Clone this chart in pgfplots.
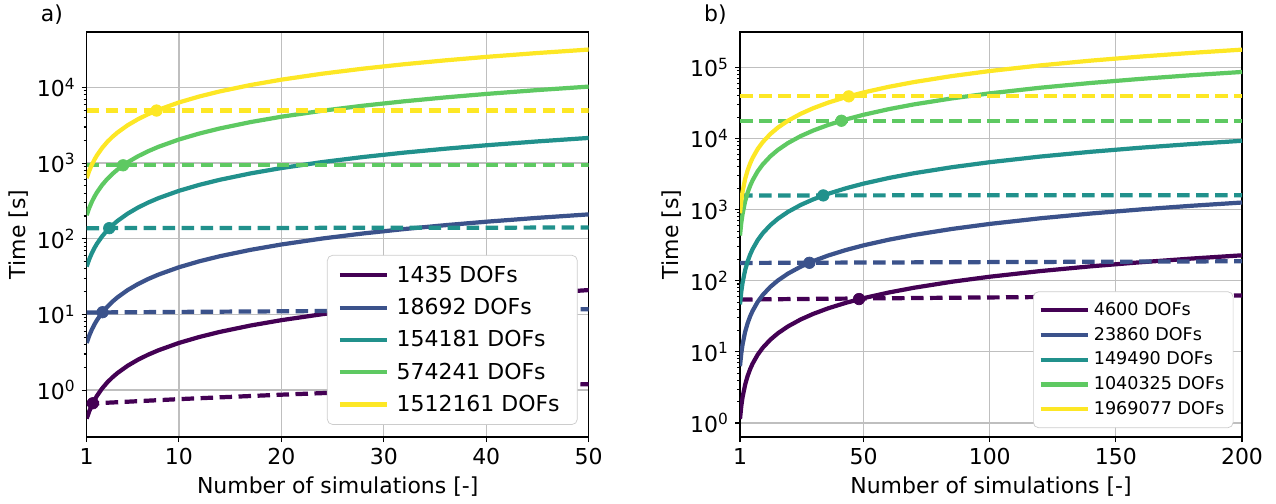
\documentclass[border=0pt]{standalone}
\usepackage{fontspec}
\setmainfont{DejaVu Sans}
\usepackage{pgfplots}
\usepackage{pgfplotstable}
\pgfplotsset{compat=1.18}

\definecolor{v0}{HTML}{440154}
\definecolor{v1}{HTML}{3B528B}
\definecolor{v2}{HTML}{21918C}
\definecolor{v3}{HTML}{5EC962}
\definecolor{v4}{HTML}{FDE725}

% panel a: time of the reduced approach vs number of simulations
\pgfplotstableread{
N    p      b      t      g      y
1    0.42   4.2    43     205    633
1.25 0.525  5.25   53.75  256.25 791.25
1.5  0.63   6.3    64.5   307.5  949.5
1.75 0.735  7.35   75.25  358.75 1107.75
2    0.84   8.4    86     410    1266
2.5  1.05   10.5   107.5  512.5  1582.5
3    1.26   12.6   129    615    1899
3.5  1.47   14.7   150.5  717.5  2215.5
4    1.68   16.8   172    820    2532
5    2.1    21     215    1025   3165
6    2.52   25.2   258    1230   3798
7    2.94   29.4   301    1435   4431
8    3.36   33.6   344    1640   5064
10   4.2    42     430    2050   6330
12   5.04   50.4   516    2460   7596
14   5.88   58.8   602    2870   8862
17   7.14   71.4   731    3485   10761
20   8.4    84     860    4100   12660
24   10.08  100.8  1032   4920   15192
28   11.76  117.6  1204   5740   17724
32   13.44  134.4  1376   6560   20256
36   15.12  151.2  1548   7380   22788
40   16.8   168    1720   8200   25320
45   18.9   189    1935   9225   28485
50   21     210    2150   10250  31650
}\dataA
\pgfplotstableread{
N   p     b      t     g     y
1   0.66  10.6   138   935   4950
10  0.76  10.8   139   935   4950
20  0.87  11.0   139   935   4950
30  0.98  11.25  140   935   4950
40  1.09  11.45  140   935   4950
50  1.20  11.7   141   935   4950
}\dashA

% panel b
\pgfplotstableread{
N    p      b      t       g      y
1    1.14   6.3    46.5    432    890
1.5  1.71   9.45   69.75   648    1335
2    2.28   12.6   93      864    1780
3    3.42   18.9   139.5   1296   2670
4    4.56   25.2   186     1728   3560
5    5.7    31.5   232.5   2160   4450
6    6.84   37.8   279     2592   5340
8    9.12   50.4   372     3456   7120
10   11.4   63     465     4320   8900
13   14.82  81.9   604.5   5616   11570
16   18.24  100.8  744     6912   14240
20   22.8   126    930     8640   17800
25   28.5   157.5  1162.5  10800  22250
30   34.2   189    1395    12960  26700
36   41.04  226.8  1674    15552  32040
43   49.02  270.9  1999.5  18576  38270
50   57     315    2325    21600  44500
60   68.4   378    2790    25920  53400
70   79.8   441    3255    30240  62300
85   96.9   535.5  3952.5  36720  75650
100  114    630    4650    43200  89000
120  136.8  756    5580    51840  106800
140  159.6  882    6510    60480  124600
160  182.4  1008   7440    69120  142400
180  205.2  1134   8370    77760  160200
200  228    1260   9300    86400  178000
}\dataB
\pgfplotstableread{
N    p     b      t     g      y
1    54.5  178    1585  17800  39200
50   56.4  180.5  1588  17800  39200
100  58.3  183    1592  17800  39200
150  60.1  185.5  1596  17800  39200
200  62    188    1600  17800  39200
}\dashB

\pgfplotsset{
  legend image code/.code={\draw[#1] (0cm,0cm) -- (0.95cm,0cm);},
}
\pgfplotsset{
  panelaxis/.style={
    scale only axis,
    width=10.04cm, height=8.1cm,
    font=\fontsize{12.5}{15}\selectfont,
    tick label style={font=\fontsize{12.5}{15}\selectfont},
    tick pos=left,
    tick align=outside,
    major tick length=0.1cm,
    minor tick length=0.06cm,
    every tick/.style={black, line width=0.6pt},
    axis line style={line width=0.8pt},
    grid=major,
    major grid style={line width=0.7pt, black!25},
    xlabel={Number of simulations [-]},
    ylabel={Time [s]},
    ylabel style={xshift=0pt, yshift=-2pt},
    legend cell align=left,
  },
}
\tikzset{
  solidcurve/.style={line width=2.4pt},
  dashcurve/.style={line width=2.4pt, dash pattern=on 0.25cm off 0.13cm},
  crossdot/.style={only marks, mark=*, mark size=0.115cm},
}

\begin{document}
\begin{tikzpicture}
\useasboundingbox (0,0) rectangle (25.52cm,10.06cm);

\begin{axis}[panelaxis, ymode=log, name=A,
  at={(1.734cm,1.32cm)}, anchor=south west,
  xmin=1, xmax=50, ymin=0.24, ymax=54000,
  xtick={1,10,20,30,40,50},
  xticklabels={1,10,20,30,40,50},
  ytick={1,10,100,1000,10000},
  yticklabels={10\textsuperscript{0},10\textsuperscript{1},10\textsuperscript{2},10\textsuperscript{3},10\textsuperscript{4}},
  legend style={at={(0.978,0.03)}, anchor=south east,
    font=\fontsize{12.5}{15}\selectfont,
    draw=black!20, rounded corners=3pt, fill=white,
    row sep=3.6pt, inner xsep=6pt, inner ysep=4pt,
    nodes={inner xsep=4pt}},
]
\addplot[solidcurve, v0] table[x=N, y=p] {\dataA};
\addlegendentry{1435 DOFs}
\addplot[dashcurve, v0, forget plot] table[x=N, y=p] {\dashA};
\addplot[crossdot, v0, forget plot] coordinates {(1.6,0.67)};
\addplot[solidcurve, v1] table[x=N, y=b] {\dataA};
\addlegendentry{18692 DOFs}
\addplot[dashcurve, v1, forget plot] table[x=N, y=b] {\dashA};
\addplot[crossdot, v1, forget plot] coordinates {(2.55,10.7)};
\addplot[solidcurve, v2] table[x=N, y=t] {\dataA};
\addlegendentry{154181 DOFs}
\addplot[dashcurve, v2, forget plot] table[x=N, y=t] {\dashA};
\addplot[crossdot, v2, forget plot] coordinates {(3.2,138)};
\addplot[solidcurve, v3] table[x=N, y=g] {\dataA};
\addlegendentry{574241 DOFs}
\addplot[dashcurve, v3, forget plot] table[x=N, y=g] {\dashA};
\addplot[crossdot, v3, forget plot] coordinates {(4.55,935)};
\addplot[solidcurve, v4] table[x=N, y=y] {\dataA};
\addlegendentry{1512161 DOFs}
\addplot[dashcurve, v4, forget plot] table[x=N, y=y] {\dashA};
\addplot[crossdot, v4, forget plot] coordinates {(7.82,4950)};
\end{axis}

\begin{axis}[panelaxis, ymode=log, name=B,
  at={(14.8cm,1.32cm)}, anchor=south west,
  xmin=1, xmax=200, ymin=0.635, ymax=315000,
  xtick={1,50,100,150,200},
  xticklabels={1,50,100,150,200},
  ytick={1,10,100,1000,10000,100000},
  yticklabels={10\textsuperscript{0},10\textsuperscript{1},10\textsuperscript{2},10\textsuperscript{3},10\textsuperscript{4},10\textsuperscript{5}},
  legend style={at={(0.983,0.022)}, anchor=south east,
    font=\fontsize{10}{12}\selectfont,
    draw=black!20, rounded corners=3pt, fill=white,
    row sep=1.2pt, inner xsep=3pt, inner ysep=4pt},
]
\addplot[solidcurve, v0] table[x=N, y=p] {\dataB};
\addlegendentry{4600 DOFs}
\addplot[dashcurve, v0, forget plot] table[x=N, y=p] {\dashB};
\addplot[crossdot, v0, forget plot] coordinates {(48.2,55.3)};
\addplot[solidcurve, v1] table[x=N, y=b] {\dataB};
\addlegendentry{23860 DOFs}
\addplot[dashcurve, v1, forget plot] table[x=N, y=b] {\dashB};
\addplot[crossdot, v1, forget plot] coordinates {(28.5,179)};
\addplot[solidcurve, v2] table[x=N, y=t] {\dataB};
\addlegendentry{149490 DOFs}
\addplot[dashcurve, v2, forget plot] table[x=N, y=t] {\dashB};
\addplot[crossdot, v2, forget plot] coordinates {(34,1585)};
\addplot[solidcurve, v3] table[x=N, y=g] {\dataB};
\addlegendentry{1040325 DOFs}
\addplot[dashcurve, v3, forget plot] table[x=N, y=g] {\dashB};
\addplot[crossdot, v3, forget plot] coordinates {(41.2,17800)};
\addplot[solidcurve, v4] table[x=N, y=y] {\dataB};
\addlegendentry{1969077 DOFs}
\addplot[dashcurve, v4, forget plot] table[x=N, y=y] {\dashB};
\addplot[crossdot, v4, forget plot] coordinates {(44.1,39200)};
\end{axis}

\node[anchor=west, font=\fontsize{12.5}{15}\selectfont] at ([xshift=-1.04cm, yshift=0.34cm]A.north west) {a)};
\node[anchor=west, font=\fontsize{12.5}{15}\selectfont] at ([xshift=-0.84cm, yshift=0.35cm]B.north west) {b)};
\end{tikzpicture}
\end{document}
